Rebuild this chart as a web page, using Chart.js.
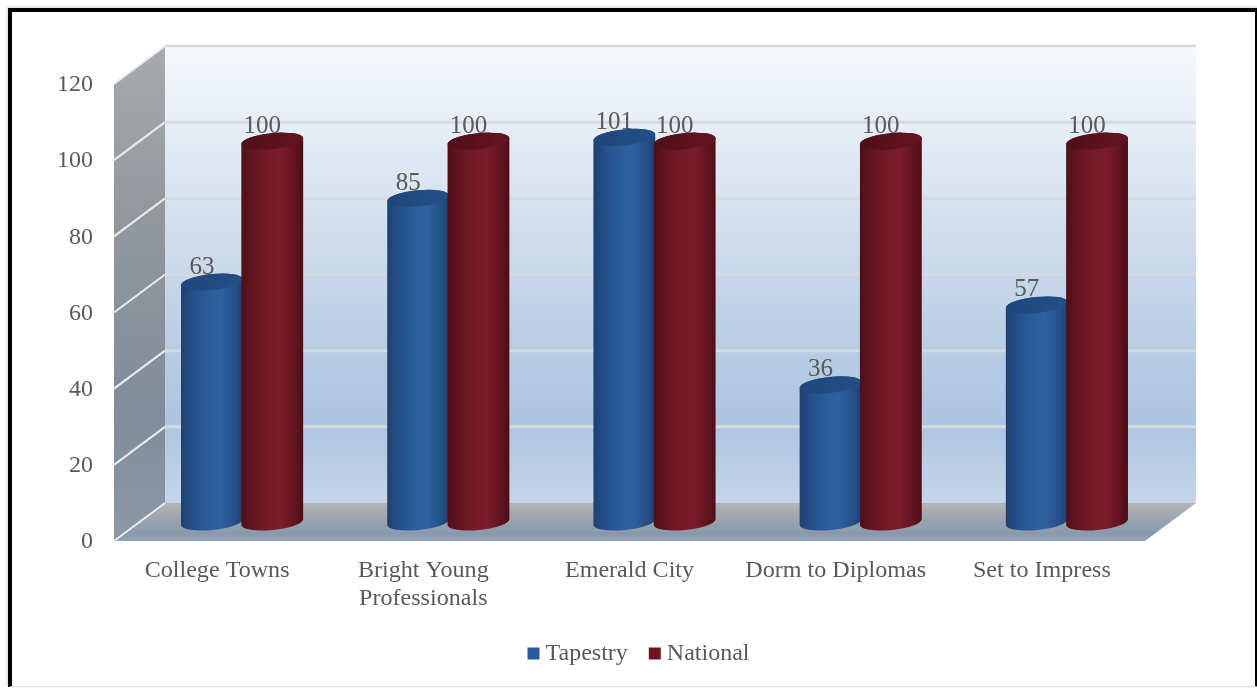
<!DOCTYPE html>
<html>
<head>
<meta charset="utf-8">
<style>
  html, body { margin: 0; padding: 0; background: #fff; overflow: hidden; }
  #stage { position: relative; width: 1257px; height: 688px; overflow: hidden; }
  canvas { position: absolute; left: 0; top: 0; }
  #frame {
    position: absolute; left: 8px; top: 8px; width: 1243px; height: 674px;
    border: 4px solid #000; border-bottom: 1px solid #dcdcdc;
    box-shadow: -1px -1px 3px rgba(0,0,0,.18);
    pointer-events: none;
  }
</style>
</head>
<body>
<div id="stage">
  <canvas id="chart" width="1257" height="688"></canvas>
  <div id="frame"></div>
</div>
<script src="https://cdn.jsdelivr.net/npm/chart.js@4"></script>
<script>
const categories = ['College Towns', ['Bright Young', 'Professionals'], 'Emerald City', 'Dorm to Diplomas', 'Set to Impress'];
const tapestry = [63, 85, 101, 36, 57];
const national = [100, 100, 100, 100, 100];

const FONT = '"Liberation Serif", "Times New Roman", serif';
const TEXT = '#595959';
const FONT_SIZE = 24;
const DEPTH_X = 51;   // horizontal run of the 3D box, front to back
const DEPTH_Y = 38;   // vertical run of the 3D box, front to back
const CAP_RY = 8;     // vertical radius of the cylinder ellipses
const CAP_TILT = -0.1; // slight perspective roll of the ellipses, radians

const BODY_STOPS = {
  blue: [[0, '#1e4070'], [.2, '#26518b'], [.45, '#2c5e9b'], [.65, '#2e619e'], [.88, '#254f86'], [1, '#1d3d6b']],
  red:  [[0, '#500f19'], [.22, '#661621'], [.45, '#761a27'], [.65, '#7a1c29'], [.88, '#60131e'], [1, '#4c0e17']]
};
const CAP_STOPS = {
  blue: [[0, '#1e4678'], [.5, '#214c82'], [1, '#234f88']],
  red:  [[0, '#4f0f19'], [.5, '#5a121c'], [1, '#631520']]
};

function linear(ctx, x0, y0, x1, y1, stops) {
  const g = ctx.createLinearGradient(x0, y0, x1, y1);
  stops.forEach(s => g.addColorStop(s[0], s[1]));
  return g;
}

function poly(ctx, pts, fill) {
  ctx.beginPath();
  pts.forEach((p, i) => i ? ctx.lineTo(p[0], p[1]) : ctx.moveTo(p[0], p[1]));
  ctx.closePath();
  ctx.fillStyle = fill;
  ctx.fill();
}

function seg(ctx, x0, y0, x1, y1, color, width) {
  ctx.beginPath();
  ctx.moveTo(x0, y0);
  ctx.lineTo(x1, y1);
  ctx.strokeStyle = color;
  ctx.lineWidth = width;
  ctx.stroke();
}

// Back wall, side wall and floor of the 3D box, with gridlines from the value axis.
function drawBox(chart) {
  const { ctx, chartArea: a, scales: { y } } = chart;
  const bx = a.left + DEPTH_X, by = a.top - DEPTH_Y;
  const bR = a.right + DEPTH_X, bB = a.bottom - DEPTH_Y;

  poly(ctx, [[bx, by], [bR, by], [bR, bB], [bx, bB]],
    linear(ctx, 0, by, 0, bB, [[0, '#f6f9fc'], [.3, '#dbe5f1'], [.62, '#bccfe6'], [.82, '#adc4e0'], [1, '#c4d5ea']]));

  poly(ctx, [[a.left, a.top], [bx, by], [bx, bB], [a.left, a.bottom]],
    linear(ctx, 0, by, 0, a.bottom, [[0, '#a8aaac'], [.35, '#92979c'], [.75, '#808c9a'], [1, '#8b98a7']]));

  poly(ctx, [[bx, bB], [bR, bB], [a.right, a.bottom], [a.left, a.bottom]],
    linear(ctx, 0, bB, 0, a.bottom, [[0, '#b4b4b6'], [.3, '#a3a8ae'], [.8, '#8899ad'], [1, '#94a5b8']]));

  y.ticks.forEach(t => {
    const py = y.getPixelForValue(t.value);
    seg(ctx, a.left, py, bx, py - DEPTH_Y, '#e9ecef', 2);
    if (t.value > 0) seg(ctx, bx, py - DEPTH_Y, bR, py - DEPTH_Y, '#d6d9dd', t.value === y.max ? 2.5 : 3);
  });
}

// One upright cylinder, standing at mid depth of the box.
function drawCylinder(ctx, bar, key) {
  const cx = bar.x + DEPTH_X / 2 - 0.5, r = bar.width / 2;
  const top = bar.y - DEPTH_Y / 2, base = bar.base - DEPTH_Y / 2;
  const ex = r * Math.cos(CAP_TILT), ey = r * Math.sin(CAP_TILT);

  ctx.beginPath();
  ctx.moveTo(cx - ex, top - ey);
  ctx.lineTo(cx - ex, base - ey);
  ctx.ellipse(cx, base, r, CAP_RY, CAP_TILT, Math.PI, 0, true);
  ctx.lineTo(cx + ex, top + ey);
  ctx.ellipse(cx, top, r, CAP_RY, CAP_TILT, 0, Math.PI, true);
  ctx.closePath();
  ctx.fillStyle = linear(ctx, cx - r, 0, cx + r, 0, BODY_STOPS[key]);
  ctx.fill();

  ctx.beginPath();
  ctx.ellipse(cx, top, r, CAP_RY, CAP_TILT, 0, Math.PI * 2);
  ctx.fillStyle = linear(ctx, cx - r, 0, cx + r, 0, CAP_STOPS[key]);
  ctx.fill();
}

const cylinderPlugin = {
  id: 'cylinders',
  beforeDatasetsDraw(chart) {
    const { ctx } = chart;
    ctx.save();
    drawBox(chart);
    const a = chart.getDatasetMeta(0).data;
    const b = chart.getDatasetMeta(1).data;
    a.forEach((bar, i) => {
      drawCylinder(ctx, bar, 'blue');
      drawCylinder(ctx, b[i], 'red');
    });
    ctx.restore();
  },
  beforeDatasetDraw() {
    return false; // the flat bars are replaced by the cylinders above
  },
  afterDatasetsDraw(chart) {
    const { ctx } = chart;
    ctx.save();
    ctx.font = '25px ' + FONT;
    ctx.fillStyle = TEXT;
    ctx.textAlign = 'center';
    ctx.textBaseline = 'middle';
    chart.data.datasets.forEach((ds, d) => {
      chart.getDatasetMeta(d).data.forEach((bar, i) => {
        ctx.fillText(String(ds.data[i]), bar.x + 15, bar.y - 34);
      });
    });
    ctx.restore();
  },
  afterLayout(chart) {
    // Legend row sits slightly right of centre, beneath the axis labels.
    const lg = chart.legend;
    const pad = lg.options.labels.padding;
    lg.left = 533.5 - pad;
    lg.right = 533.5 + lg.lineWidths[0];
    lg.top = 641.5 - pad;
  }
};

new Chart(document.getElementById('chart'), {
  type: 'bar',
  data: {
    labels: categories,
    datasets: [
      { label: 'Tapestry', data: tapestry, backgroundColor: '#2a5a9a', borderWidth: 0 },
      { label: 'National', data: national, backgroundColor: '#6e1423', borderWidth: 0 }
    ]
  },
  options: {
    responsive: false,
    animation: false,
    events: [],
    layout: { padding: { left: 0, right: 112, top: 84, bottom: 0 } },
    datasets: { bar: { categoryPercentage: 0.585, barPercentage: 1.03 } },
    plugins: {
      tooltip: { enabled: false },
      legend: {
        position: 'bottom',
        labels: {
          usePointStyle: true,
          pointStyle: 'rect',
          boxWidth: 0.01,
          boxHeight: 12,
          padding: 27,
          color: TEXT,
          font: { family: FONT, size: FONT_SIZE }
        }
      }
    },
    scales: {
      x: {
        grid: { display: false },
        border: { display: false },
        afterFit(scale) { scale.height = 147 - scale.chart.legend.height; },
        ticks: {
          color: TEXT,
          font: { family: FONT, size: 24.1, lineHeight: 1.16 },
          padding: 8,
          maxRotation: 0,
          autoSkip: false
        }
      },
      y: {
        min: 0,
        max: 120,
        grid: { display: false },
        border: { display: false },
        afterFit(scale) { scale.width = 114; },
        ticks: {
          stepSize: 20,
          color: TEXT,
          padding: 13,
          labelOffset: 1,
          font: { family: FONT, size: FONT_SIZE }
        }
      }
    }
  },
  plugins: [cylinderPlugin]
});
</script>
</body>
</html>
